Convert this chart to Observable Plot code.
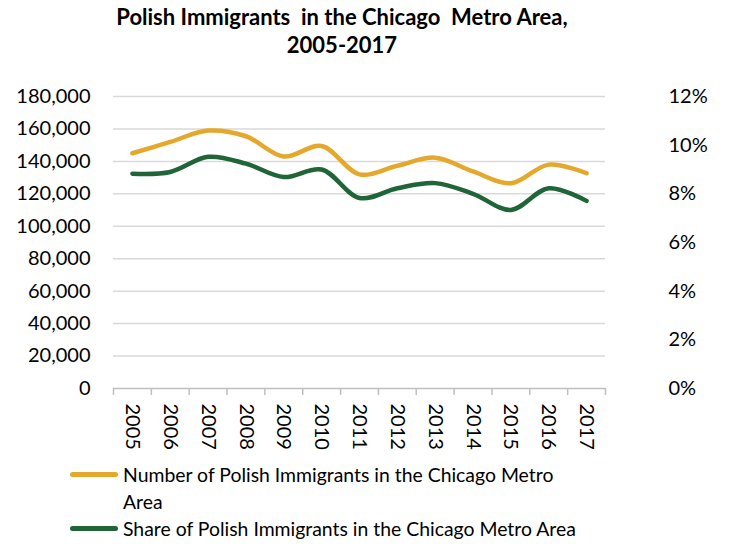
<!DOCTYPE html>
<html>
<head>
<meta charset="utf-8">
<script src="https://cdn.jsdelivr.net/npm/d3@7"></script>
<script src="https://cdn.jsdelivr.net/npm/@observablehq/plot@0.6"></script>
<style>
  html, body { margin: 0; padding: 0; background: #fff; }
  body { width: 731px; height: 544px; position: relative; overflow: hidden; font-family: Lato, "Open Sans", sans-serif; color: #000; }
  #title { position: absolute; left: 0; top: 3px; width: 684px; text-align: center; font-weight: bold; font-size: 22px; line-height: 28px; }
  #chart { position: absolute; left: 0; top: 70px; }
  #legend { position: absolute; left: 70px; top: 461px; font-size: 19.4px; line-height: 27px; }
  .item { display: flex; align-items: flex-start; }
  .sw { width: 48px; height: 5px; border-radius: 3px; margin-top: 11px; margin-right: 5px; flex: none; }
</style>
</head>
<body>
<div id="title">Polish Immigrants&nbsp; in the Chicago&nbsp; Metro Area,<br>2005-2017</div>
<div id="chart"></div>
<div id="legend"></div>
<script>
const years = [2005, 2006, 2007, 2008, 2009, 2010, 2011, 2012, 2013, 2014, 2015, 2016, 2017];
const numberImmigrants = [145000, 152000, 159000, 155500, 143000, 149500, 132000, 137300, 142300, 133800, 126500, 138000, 132700];
const sharePercent = [8.83, 8.9, 9.52, 9.24, 8.69, 9.0, 7.83, 8.23, 8.44, 8.0, 7.34, 8.23, 7.71];
const leftTicks = [0, 20000, 40000, 60000, 80000, 100000, 120000, 140000, 160000, 180000];
const rightTicks = [0, 2, 4, 6, 8, 10, 12];
const seriesNames = ["Number of Polish Immigrants in the Chicago Metro<br>Area", "Share of Polish Immigrants in the Chicago Metro Area"];
const colors = ["#E4A92C", "#1F6537"];

// right axis: 12% aligns with 180,000
const ratio = leftTicks[leftTicks.length - 1] / rightTicks[rightTicks.length - 1];
const data = years.map((year, i) => ({year, number: numberImmigrants[i], share: sharePercent[i]}));
const edges = [years[0] - 0.5, ...years.map(y => y + 0.5)];

const chart = Plot.plot({
  width: 731,
  height: 385,
  marginTop: 26,
  marginBottom: 67,
  marginLeft: 113,
  marginRight: 126,
  x: {type: "linear", domain: [years[0] - 0.5, years[years.length - 1] + 0.5]},
  y: {domain: [leftTicks[0], leftTicks[leftTicks.length - 1]]},
  style: {fontFamily: "Lato, 'Open Sans', sans-serif", fontSize: "20px", color: "#000", background: "white"},
  marks: [
    Plot.ruleY(leftTicks.filter(d => d > 0), {stroke: "#D9D9D9", strokeWidth: 1.5}),
    Plot.ruleY([0], {stroke: "#BFBFBF", strokeWidth: 1.5}),
    Plot.axisX(edges, {tickSize: 7, tickFormat: () => "", stroke: "#BFBFBF", strokeWidth: 1.5, label: null}),
    Plot.axisX(years, {tickSize: 0, tickPadding: 15, tickRotate: 90, tickFormat: d => String(d), label: null, fontSize: 20}),
    Plot.axisY(leftTicks, {anchor: "left", tickSize: 0, tickPadding: 23, tickFormat: d3.format(","), label: null, fontSize: 20}),
    Plot.axisY(rightTicks.map(p => p * ratio), {anchor: "right", tickSize: 0, tickPadding: 63, tickFormat: d => (d / ratio) + "%", label: null, fontSize: 20}),
    Plot.line(data, {x: "year", y: "number", stroke: colors[0], strokeWidth: 4.5, curve: "catmull-rom", strokeLinecap: "round"}),
    Plot.line(data, {x: "year", y: d => d.share * ratio, stroke: colors[1], strokeWidth: 4.5, curve: "catmull-rom", strokeLinecap: "round"})
  ]
});
document.getElementById("chart").appendChild(chart);

const legend = document.getElementById("legend");
seriesNames.forEach((name, i) => {
  const item = document.createElement("div");
  item.className = "item";
  item.innerHTML = `<span class="sw" style="background:${colors[i]}"></span><span>${name}</span>`;
  legend.appendChild(item);
});
</script>
</body>
</html>
